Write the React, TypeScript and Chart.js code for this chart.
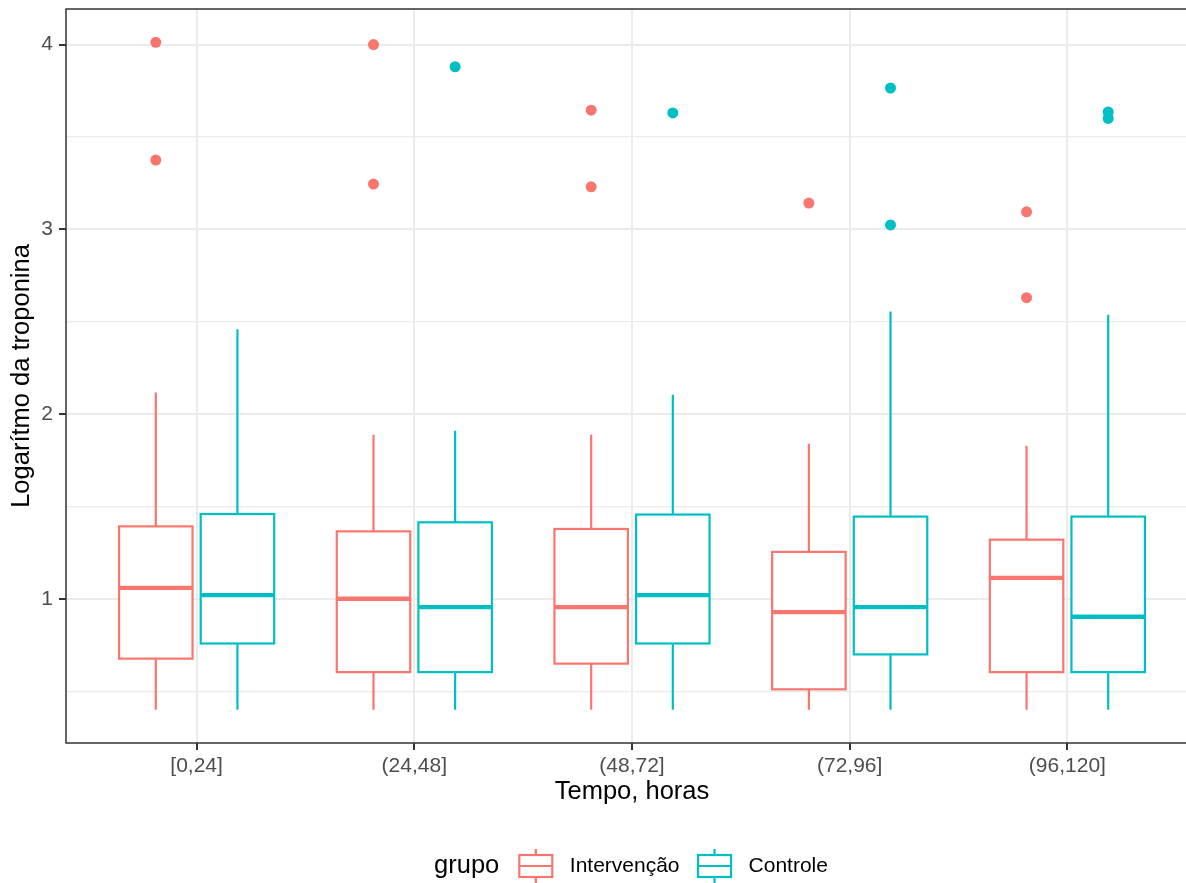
import React, { useEffect, useRef } from "react";
import { Chart, registerables } from "chart.js";

Chart.register(...registerables);

// ---------- data ----------
const categories = ["[0,24]", "(24,48]", "(48,72]", "(72,96]", "(96,120]"];
const groupNames = ["Intervenção", "Controle"];
const groupColors = ["#F8766D", "#00BFC4"];

// Intervenção
const intLow = [0.4, 0.4, 0.4, 0.4, 0.4];
const intQ1 = [0.676, 0.603, 0.649, 0.51, 0.603];
const intMedian = [1.059, 1.0, 0.955, 0.928, 1.113];
const intQ3 = [1.392, 1.365, 1.378, 1.254, 1.32];
const intHigh = [2.117, 1.888, 1.888, 1.839, 1.829];
const intOutliers = [[4.012, 3.375], [4.0, 3.245], [3.645, 3.23], [3.142], [3.095, 2.63]];

// Controle
const ctlLow = [0.4, 0.4, 0.4, 0.4, 0.4];
const ctlQ1 = [0.758, 0.603, 0.758, 0.699, 0.603];
const ctlMedian = [1.02, 0.955, 1.02, 0.955, 0.903];
const ctlQ3 = [1.459, 1.414, 1.456, 1.445, 1.445];
const ctlHigh = [2.459, 1.91, 2.104, 2.555, 2.537];
const ctlOutliers = [[], [3.88], [3.63], [3.765, 3.024], [3.635, 3.6]];

const yMajorTicks = [1, 2, 3, 4];
const yMinorTicks = [0.5, 1.5, 2.5, 3.5];

const xTitle = "Tempo, horas";
const yTitle = "Logarítmo da troponina";
const legendTitle = "grupo";

// ---------- layout constants ----------
const DODGE = [-0.1875, 0.1875];
const BOX_W = 0.3375;
const FONT = "'Liberation Sans', Arial, sans-serif";
const CANVAS_W = 1206;
const CANVAS_H = 883;

const stats = [
  { low: intLow, q1: intQ1, med: intMedian, q3: intQ3, high: intHigh, out: intOutliers },
  { low: ctlLow, q1: ctlQ1, med: ctlMedian, q3: ctlQ3, high: ctlHigh, out: ctlOutliers },
];

const allVals: number[] = [];
stats.forEach((s) => {
  allVals.push(...s.low, ...s.high);
  s.out.forEach((o) => allVals.push(...o));
});
const dMin = Math.min(...allVals);
const dMax = Math.max(...allVals);
const yMin = dMin - 0.05 * (dMax - dMin);
const yMax = dMax + 0.05 * (dMax - dMin);

const boxPlugin = {
  id: "ggBoxes",
  beforeDatasetsDraw(chart: any) {
    const { ctx, scales } = chart;
    const x = scales.x;
    const y = scales.y;
    const hw = Math.abs(x.getPixelForValue(BOX_W) - x.getPixelForValue(0)) / 2;
    ctx.save();
    stats.forEach((s, gi) => {
      const col = groupColors[gi];
      for (let i = 0; i < categories.length; i++) {
        const cx = x.getPixelForValue(i + 1 + DODGE[gi]);
        const pLow = y.getPixelForValue(s.low[i]);
        const pQ1 = y.getPixelForValue(s.q1[i]);
        const pMed = y.getPixelForValue(s.med[i]);
        const pQ3 = y.getPixelForValue(s.q3[i]);
        const pHigh = y.getPixelForValue(s.high[i]);
        ctx.strokeStyle = col;
        ctx.lineWidth = 2.2;
        ctx.lineCap = "butt";
        ctx.beginPath();
        ctx.moveTo(cx, pQ3);
        ctx.lineTo(cx, pHigh);
        ctx.moveTo(cx, pQ1);
        ctx.lineTo(cx, pLow);
        ctx.stroke();
        ctx.fillStyle = "#ffffff";
        ctx.fillRect(cx - hw, pQ3, 2 * hw, pQ1 - pQ3);
        ctx.strokeRect(cx - hw, pQ3, 2 * hw, pQ1 - pQ3);
        ctx.lineWidth = 4.4;
        ctx.beginPath();
        ctx.moveTo(cx - hw, pMed);
        ctx.lineTo(cx + hw, pMed);
        ctx.stroke();
      }
    });
    ctx.restore();
  },
  afterDraw(chart: any) {
    const { ctx, chartArea } = chart;
    ctx.save();
    // panel border
    ctx.strokeStyle = "#333333";
    ctx.lineWidth = 1.5;
    ctx.strokeRect(chartArea.left, chartArea.top, chartArea.right - chartArea.left, chartArea.bottom - chartArea.top);

    // axis titles
    ctx.fillStyle = "#000000";
    ctx.font = `25.5px ${FONT}`;
    ctx.textAlign = "center";
    ctx.textBaseline = "middle";
    ctx.fillText(xTitle, (chartArea.left + chartArea.right) / 2, 792);
    ctx.save();
    ctx.translate(22, (chartArea.top + chartArea.bottom) / 2);
    ctx.rotate(-Math.PI / 2);
    ctx.fillText(yTitle, 0, 0);
    ctx.restore();

    // legend
    const ly = 866;
    const iconW = 33;
    ctx.font = `25.5px ${FONT}`;
    const wTitle = ctx.measureText(legendTitle).width;
    ctx.font = `21px ${FONT}`;
    const wLabels = groupNames.map((n) => ctx.measureText(n).width);
    const total = wTitle + 20 + groupNames.length * (iconW + 17.5) + wLabels.reduce((a, b) => a + b, 0) + 18.5 * (groupNames.length - 1);
    let lx = 631 - total / 2;
    ctx.textAlign = "left";
    ctx.font = `25.5px ${FONT}`;
    ctx.fillStyle = "#000000";
    ctx.fillText(legendTitle, lx, ly);
    lx += wTitle + 20;
    groupNames.forEach((n, gi) => {
      const col = groupColors[gi];
      ctx.strokeStyle = col;
      ctx.lineWidth = 2.2;
      const cx = lx + iconW / 2;
      ctx.beginPath();
      ctx.moveTo(cx, ly - 17);
      ctx.lineTo(cx, ly - 11);
      ctx.moveTo(cx, ly + 11);
      ctx.lineTo(cx, ly + 17);
      ctx.stroke();
      ctx.strokeRect(lx, ly - 11, iconW, 22);
      ctx.beginPath();
      ctx.moveTo(lx, ly);
      ctx.lineTo(lx + iconW, ly);
      ctx.stroke();
      lx += iconW + 17.5;
      ctx.font = `21px ${FONT}`;
      ctx.fillStyle = "#000000";
      ctx.fillText(n, lx, ly);
      lx += wLabels[gi] + 18.5;
    });
    ctx.restore();
  },
};

export default function App() {
  const ref = useRef<HTMLCanvasElement | null>(null);
  useEffect(() => {
    if (!ref.current) return;
    const datasets = stats.map((s, gi) => ({
      label: groupNames[gi],
      data: s.out.flatMap((vals, i) => vals.map((v) => ({ x: i + 1 + DODGE[gi], y: v }))),
      backgroundColor: groupColors[gi],
      borderWidth: 0,
      pointRadius: 5.5,
      pointHoverRadius: 5.5,
    }));
    const chart = new Chart(ref.current, {
      type: "scatter",
      data: { datasets },
      plugins: [boxPlugin],
      options: {
        animation: false,
        responsive: false,
        devicePixelRatio: 1,
        layout: { padding: { left: 0, right: 8, top: 9, bottom: 0 } },
        plugins: { legend: { display: false }, tooltip: { enabled: false } },
        scales: {
          x: {
            type: "linear",
            min: 0.4,
            max: categories.length + 0.6,
            afterBuildTicks: (axis: any) => {
              axis.ticks = categories.map((_, i) => ({ value: i + 1 }));
            },
            afterFit: (axis: any) => {
              axis.height = 140;
              axis.paddingLeft = 0;
              axis.paddingRight = 0;
            },
            border: { display: false },
            grid: {
              color: "#EBEBEB",
              lineWidth: 2,
              tickColor: "#333333",
              tickLength: 7,
              tickWidth: 2,
            },
            ticks: {
              autoSkip: false,
              maxRotation: 0,
              padding: 4,
              color: "#4D4D4D",
              font: { family: FONT, size: 21 },
              callback: (_v: any, idx: number) => categories[idx],
            },
          },
          y: {
            type: "linear",
            min: yMin,
            max: yMax,
            afterBuildTicks: (axis: any) => {
              axis.ticks = [...yMinorTicks, ...yMajorTicks].sort((a, b) => a - b).map((v) => ({ value: v }));
            },
            afterFit: (axis: any) => {
              axis.width = 66;
              axis.paddingTop = 0;
              axis.paddingBottom = 0;
            },
            border: { display: false },
            grid: {
              color: "#EBEBEB",
              lineWidth: (c: any) => (yMajorTicks.includes(c.tick?.value) ? 2 : 1.2),
              tickColor: (c: any) => (yMajorTicks.includes(c.tick?.value) ? "#333333" : "rgba(0,0,0,0)"),
              tickLength: 7,
              tickWidth: 2,
            },
            ticks: {
              autoSkip: false,
              padding: 6,
              color: "#4D4D4D",
              font: { family: FONT, size: 21 },
              callback: (v: any) => (yMajorTicks.includes(v) ? String(v) : ""),
            },
          },
        },
      },
    });
    return () => chart.destroy();
  }, []);
  return (
    <div style={{ position: "fixed", left: 0, top: 0, width: 1186, height: 883, overflow: "hidden", background: "#fff" }}>
      <canvas ref={ref} width={CANVAS_W} height={CANVAS_H} style={{ width: CANVAS_W, height: CANVAS_H, display: "block" }} />
    </div>
  );
}
